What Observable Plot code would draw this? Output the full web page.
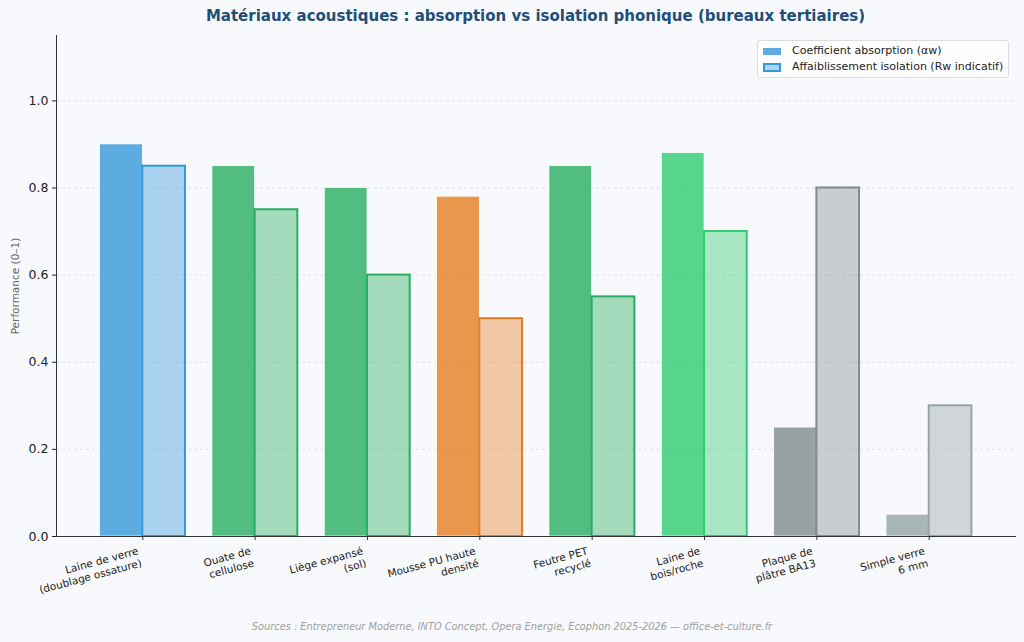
<!DOCTYPE html>
<html><head><meta charset="utf-8">
<script src="https://cdn.jsdelivr.net/npm/d3@7"></script>
<script src="https://cdn.jsdelivr.net/npm/@observablehq/plot@0.6"></script>
<style>
html,body{margin:0;padding:0;background:#f8f9fc;}
#wrap{position:relative;width:1024px;height:642px;background:#f8f9fc;font-family:"DejaVu Sans",sans-serif;overflow:hidden;}
#title{position:absolute;left:56px;width:959px;top:7px;text-align:center;font-weight:bold;font-size:15px;color:#1f4e79;}
#chart{position:absolute;left:0;top:30px;}
#foot{position:absolute;left:0;width:1024px;top:621px;text-align:center;font-style:italic;font-size:9.8px;color:#a0a0a0;}
#legend{position:absolute;left:757px;top:40px;width:250px;height:36px;border:1px solid #dcdcdc;border-radius:3px;background:rgba(255,255,255,0.85);font-size:11px;color:#222;}
.sw{position:absolute;left:5px;width:18px;box-sizing:border-box;}
.lt{position:absolute;left:34px;white-space:nowrap;}
</style></head>
<body><div id="wrap">
<div id="title">Matériaux acoustiques : absorption vs isolation phonique (bureaux tertiaires)</div>
<div id="chart"></div>
<div id="legend">
  <div class="sw" style="top:7px;height:7px;background:rgba(52,152,219,0.8);"></div>
  <div class="lt" style="top:3px;">Coefficient absorption (αw)</div>
  <div class="sw" style="top:22px;height:9px;background:rgba(52,152,219,0.4);border:2px solid #3498db;"></div>
  <div class="lt" style="top:19px;">Affaiblissement isolation (Rw indicatif)</div>
</div>
<div id="foot">Sources : Entrepreneur Moderne, INTO Concept, Opera Energie, Ecophon 2025-2026 — office-et-culture.fr</div>
</div>
<script>
const categories = [
  "Laine de verre\n(doublage ossature)",
  "Ouate de\ncellulose",
  "Liège expansé\n(sol)",
  "Mousse PU haute\ndensité",
  "Feutre PET\nrecyclé",
  "Laine de\nbois/roche",
  "Plaque de\nplâtre BA13",
  "Simple verre\n6 mm"
];
const absorption = [0.90, 0.85, 0.80, 0.78, 0.85, 0.88, 0.25, 0.05];
const isolation  = [0.85, 0.75, 0.60, 0.50, 0.55, 0.70, 0.80, 0.30];
const colors = ["#3498db", "#27ae60", "#27ae60", "#e67e22", "#27ae60", "#2ecc71", "#7f8c8d", "#95a5a6"];
const yTicks = [0, 0.2, 0.4, 0.6, 0.8, 1.0];
const seriesNames = ["Coefficient absorption (αw)", "Affaiblissement isolation (Rw indicatif)"];

const W = 0.38;
const rows = categories.map((c, i) => ({i, c, abs: absorption[i], iso: isolation[i], color: colors[i]}));

const chart = Plot.plot({
  width: 1024,
  height: 580,
  marginTop: 5,
  marginLeft: 56,
  marginRight: 9,
  marginBottom: 74,
  style: {background: "transparent", fontFamily: "DejaVu Sans, sans-serif"},
  x: {domain: [-0.768, 7.768], axis: null},
  y: {domain: [0, 1.15], axis: null},
  marks: [
    Plot.gridY(yTicks, {stroke: "#cfcfcf", strokeOpacity: 0.7, strokeDasharray: "3,3", strokeWidth: 0.8}),
    Plot.rectY(rows, {x1: d => d.i - W, x2: d => d.i, y1: 0, y2: "abs", fill: d => d.color, fillOpacity: 0.8, stroke: "white", strokeWidth: 0.7, insetLeft: 0, insetRight: 0}),
    Plot.rectY(rows, {x1: d => d.i, x2: d => d.i + W, y1: 0, y2: "iso", fill: d => d.color, fillOpacity: 0.4, stroke: d => d.color, strokeWidth: 2, insetLeft: 0, insetRight: 0}),
    Plot.frame({anchor: "left", stroke: "#333", strokeWidth: 1}),
    Plot.frame({anchor: "bottom", stroke: "#333", strokeWidth: 1}),
    Plot.axisY({ticks: yTicks, tickFormat: d3.format(".1f"), tickSize: 4, tickPadding: 4, fontSize: 12.5, color: "#222",
      label: "Performance (0–1)", labelAnchor: "center", labelArrow: "none", labelOffset: 45}),
    Plot.axisX({ticks: rows.map(d => d.i), tickSize: 4, tickFormat: () => "", label: null, stroke: "#333"}),
    Plot.text(rows, {x: "i", y: 0, text: "c", rotate: -15, textAnchor: "end", lineAnchor: "top", lineHeight: 1.2, dx: -6, dy: 9, fontSize: 10.5, fill: "#222"})
  ]
});
d3.select(chart).selectAll("g[aria-label='y-axis label'] text").attr("font-size", 10.5).attr("fill", "#666");
d3.select(chart).selectAll("g[aria-label='y-axis tick label']").attr("font-size", 12.5);
document.getElementById("chart").appendChild(chart);
</script>
</body></html>
